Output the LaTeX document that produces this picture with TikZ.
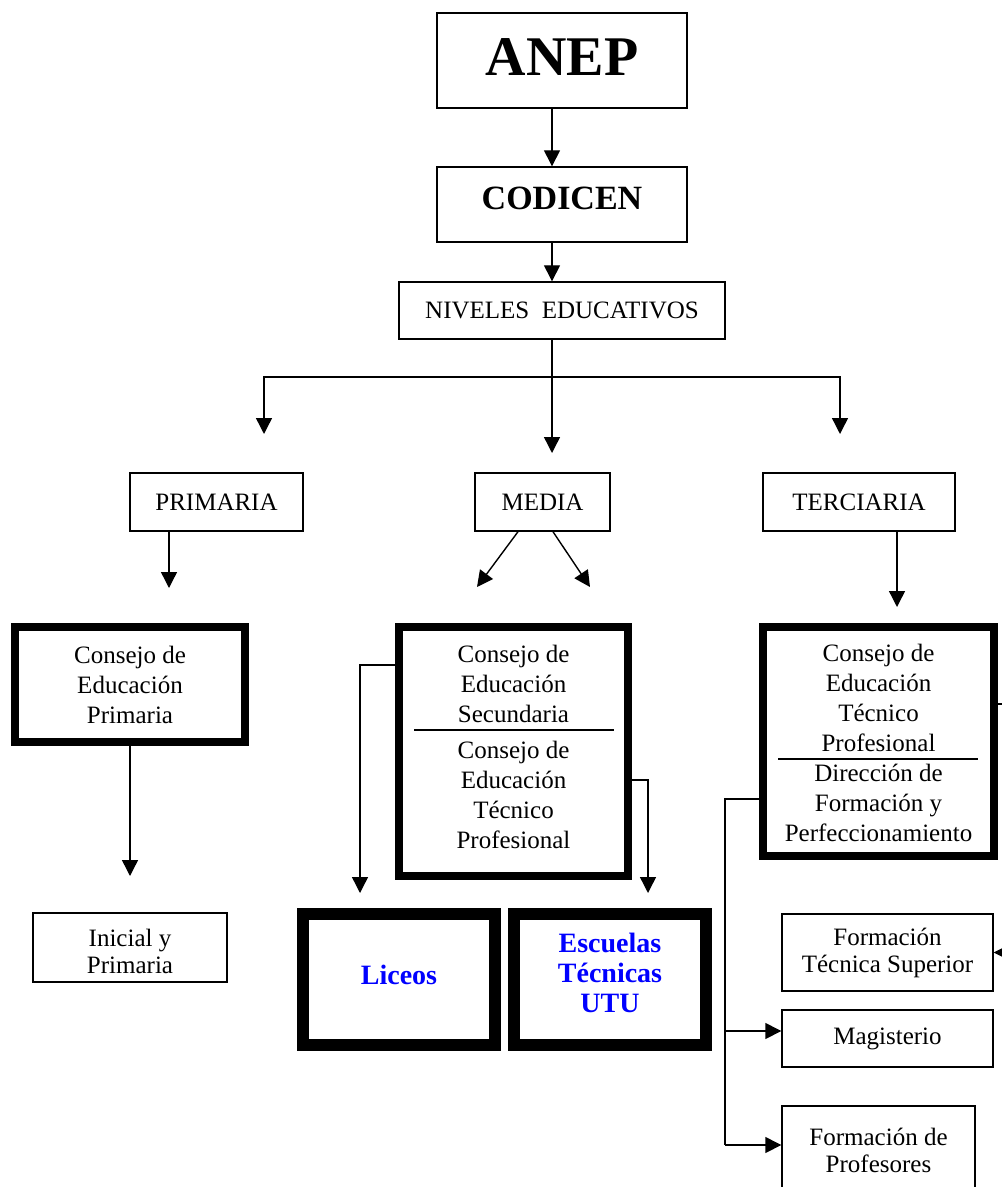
\documentclass[tikz,border=0pt]{standalone}
\usepackage{fontspec}
\setmainfont{Liberation Serif}
\usetikzlibrary{positioning, arrows.meta}
\definecolor{utublue}{RGB}{0,0,255}

\begin{document}
\begin{tikzpicture}[x=0.5pt, y=-0.5pt,
    every node/.style={font=\fontsize{12.5}{15}\selectfont, align=center, inner sep=0pt},
    box/.style={draw, line width=0.7pt},
    thickbox/.style={draw, line width=4pt},
    heavybox/.style={draw, line width=6pt, text=utublue, font=\fontsize{14}{15}\selectfont\bfseries},
    arr/.style={-{Triangle[length=8pt, width=8pt]}, line width=0.7pt}]
  \useasboundingbox (0,0) rectangle (1001,1187);

  % top of the chart
  \node[box, minimum width=125pt, minimum height=47.5pt, text depth=3.5pt, font=\fontsize{28}{30}\selectfont\bfseries] (anep) at (562,60.5) {ANEP};
  \node[box, minimum width=125pt, minimum height=37.5pt, text depth=6pt, font=\fontsize{17}{20}\selectfont\bfseries] (codicen) at (562,204.5) {CODICEN};
  \node[box, minimum width=163pt, minimum height=28.5pt] (niveles) at (562,310.5) {NIVELES\ \ EDUCATIVOS};

  % levels
  \node[box, minimum width=86.5pt, minimum height=29pt] (primaria) at (216.5,502) {PRIMARIA};
  \node[box, minimum width=67.5pt, minimum height=29pt] (media) at (542.5,502) {MEDIA};
  \node[box, minimum width=96pt, minimum height=29pt] (terciaria) at (859,502) {TERCIARIA};

  % councils
  \node[thickbox, minimum width=115pt, minimum height=57.5pt] (cep) at (130,684.5) {Consejo de\\Educación\\Primaria};
  \node[thickbox, minimum width=114.5pt, minimum height=124.5pt] (cem) at (513.5,751.5) {};
  \node (ces) at (513.5,684) {Consejo de\\Educación\\Secundaria};
  \node (cetpm) at (513.5,795) {Consejo de\\Educación\\Técnico\\Profesional};
  \draw[line width=0.7pt] (414,730) -- (614,730);
  \node[thickbox, minimum width=115.5pt, minimum height=114.5pt] (ctp) at (878.5,741.5) {};
  \node (ctpup) at (878.5,697.5) {Consejo de\\Educación\\Técnico\\Profesional};
  \node (dfp) at (878.5,803) {Dirección de\\Formación y\\Perfeccionamiento};
  \draw[line width=0.7pt] (778,759) -- (978,759);

  % schools
  \node[box, minimum width=97pt, minimum height=34.5pt] (inicial) at (130,947.5) {};
  \node[font=\fontsize{12.5}{13.5}\selectfont] (iniciallbl) at (130,951) {Inicial y\\Primaria};
  \node[heavybox, minimum width=96pt, minimum height=65.5pt, text depth=5pt] (liceos) at (399,979.5) {Liceos};
  \node[heavybox, minimum width=96pt, minimum height=65.5pt, text depth=7pt] (utu) at (610,979.5) {Escuelas\\Técnicas\\UTU};
  \node[box, minimum width=105.5pt, minimum height=38.5pt, font=\fontsize{12.5}{13.5}\selectfont] (fts) at (887.5,952.5) {Formación\\Técnica Superior};
  \node[box, minimum width=105.5pt, minimum height=28.5pt] (magisterio) at (887.5,1038.5) {Magisterio};
  \node[box, minimum width=96.5pt, minimum height=44.5pt, font=\fontsize{12.5}{13.5}\selectfont] (profesores) at (878.5,1150.5) {Formación de\\Profesores};

  % arrow ends
  \coordinate (hub) at (552,377);
  \coordinate (tpri) at (264,434);
  \coordinate (tmed) at (552,453);
  \coordinate (tter) at (840,434);
  \coordinate (tcep) at (169,588);
  \coordinate (tsec) at (477,587);
  \coordinate (ttec) at (590,587);
  \coordinate (tctp) at (897,607);
  \coordinate (tini) at (130,876);
  \coordinate (tlic) at (360,893);
  \coordinate (tutu) at (648,893);
  \coordinate (kmag) at (725,1031);
  \coordinate (kpro) at (725,1145);

  \draw[arr] ([xshift=-5pt]anep.south) -- ([xshift=-5pt]codicen.north);
  \draw[arr] ([xshift=-5pt]codicen.south) -- ([xshift=-5pt]niveles.north);
  \draw[line width=0.7pt] ([xshift=-5pt]niveles.south) -- (hub);
  \draw[arr] (hub) -- (tmed);
  \draw[arr] (hub) -| (tpri);
  \draw[arr] (hub) -| (tter);
  \draw[arr] (primaria.south -| tcep) -- (tcep);
  \draw[arr] ([xshift=-12.25pt]media.south) -- (tsec);
  \draw[arr] ([xshift=5.25pt]media.south) -- (ttec);
  \draw[arr] (terciaria.south -| tctp) -- (tctp);
  \draw[arr] (cep.south) -- (tini);
  \draw[arr] ([yshift=43.25pt]cem.west) -| (tlic);
  \draw[arr] ([yshift=-14.25pt]cem.east) -| (tutu);
  \draw[arr] ([yshift=18.75pt]ctp.east) -- ++(12pt,0) |- (fts.east);
  \draw[line width=0.7pt] ([yshift=-28.75pt]ctp.west) -| (kpro);
  \draw[arr] (kpro) -- (profesores.west |- kpro);
  \draw[arr] (kmag) -- (magisterio.west |- kmag);
\end{tikzpicture}
\end{document}
